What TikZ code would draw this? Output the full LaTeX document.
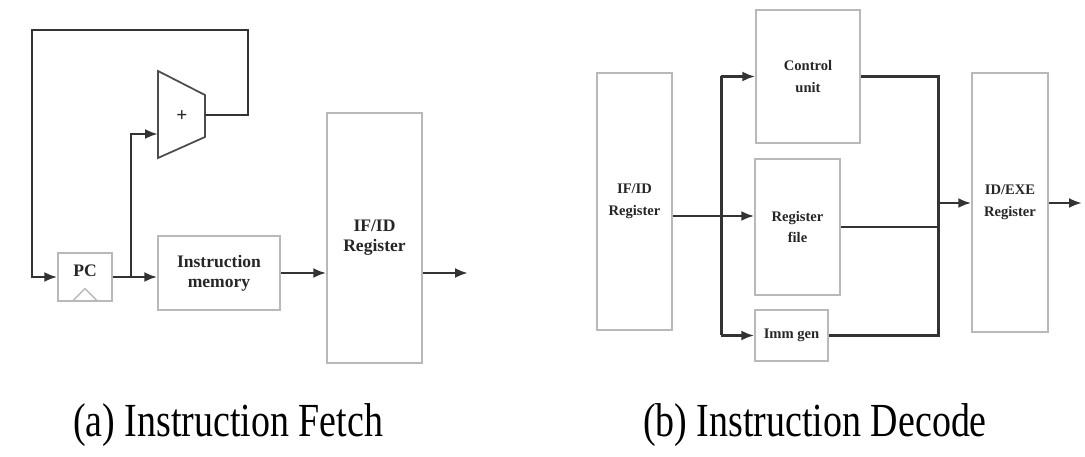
\documentclass[tikz,border=0pt]{standalone}
\usepackage{graphicx}
\usepackage{fontspec}
\setmainfont{Liberation Serif}
\usetikzlibrary{arrows.meta}

\tikzset{
  blk/.style={draw=gray!55, line width=0.8pt, align=center, text=black!85, inner sep=0pt},
  bigtxt/.style={font=\bfseries\fontsize{10}{11.4}\selectfont},
  smalltxt/.style={font=\bfseries\fontsize{8.3}{12.5}\selectfont},
  wire/.style={draw=black!80, line width=1.7pt},
  >={Latex[length=2.6mm,width=2mm]}
}

\begin{document}
\begin{tikzpicture}[x=0.2mm,y=-0.2mm]
\useasboundingbox (0,0) rectangle (1085,457);

% (a) instruction fetch
\path
(85,277) node[blk,minimum width=10.8mm,minimum height=9.6mm](pc) {}
(219,273) node[blk,bigtxt,minimum width=24.4mm,minimum height=14.8mm](imem) {Instruction\\memory}
(374.5,238) node[blk,bigtxt,minimum width=19mm,minimum height=50mm](ifid) {IF/ID\\Register};
\node[bigtxt,text=black!85,anchor=north] (pclbl) at ([yshift=-1.2mm]pc.north) {PC};
\draw[draw=gray!55,line width=0.8pt] ([xshift=-2.6mm]pc.south) -- ([yshift=2.6mm]pc.south) -- ([xshift=2.6mm]pc.south);

% adder
\draw[draw=black!70,line width=1pt] (158,71) -- (205,95) -- (205,137) -- (158,158) -- cycle;
\node[font=\bfseries\fontsize{11}{12}\selectfont,text=black!85] (add) at (182,116) {+};
\coordinate (addin) at (158,134);
\coordinate (addout) at (205,115);
\coordinate (loopR) at (248,30);
\coordinate (loopL) at (32,30);
\coordinate (jn) at (131,277);
\coordinate (ifout) at (468,273);

\draw[wire,->] (addout) -| (loopR) -- (loopL) |- (pc.west);
\draw[wire,->] (pc.east) -- (imem.west |- pc.east);
\draw[wire,->] (jn) |- (addin);
\draw[wire,->] (imem.east) -- (imem.east -| ifid.west);
\draw[wire,->] (ifid.east |- ifout) -- (ifout);

% (b) instruction decode
\path
(634.5,201.5) node[blk,smalltxt,minimum width=15mm,minimum height=51.4mm](ifid2) {IF/ID\\Register}
(808,76.5) node[blk,smalltxt,minimum width=20.8mm,minimum height=26.6mm](ctrl) {Control\\unit}
(797.5,227) node[blk,smalltxt,minimum width=17mm,minimum height=27.2mm](regf) {Register\\file}
(791.5,335.5) node[blk,smalltxt,minimum width=14.6mm,minimum height=10.2mm](imm) {Imm gen}
(1010,202.5) node[blk,smalltxt,minimum width=15.2mm,minimum height=51.8mm](idexe) {ID/EXE\\Register};

\coordinate (bus) at (721,216);
\coordinate (mrg) at (938,203);
\coordinate (idout) at (1082,203);

\draw[wire,->] (ifid2.east |- bus) -- (regf.west |- bus);
\draw[wire] (bus |- ctrl.west) -- (bus |- imm.west);
\draw[wire,->] (bus |- ctrl.west) -- (ctrl.west);
\draw[wire,->] (bus |- imm.west) -- (imm.west);
\draw[wire] (ctrl.east) -| (mrg |- imm.east) -- (imm.east);
\draw[wire] (regf.east) -- (regf.east -| mrg);
\draw[wire,->] (mrg) -- (mrg -| idexe.west);
\draw[wire,->] (idexe.east |- idout) -- (idout);

% captions
\node[font=\fontsize{27}{30}\selectfont] (capa) at (228,425) {\scalebox{0.8}[1]{(a) Instruction Fetch}};
\node[font=\fontsize{27}{30}\selectfont] (capb) at (815,425) {\scalebox{0.8}[1]{(b) Instruction Decode}};
\end{tikzpicture}
\end{document}
